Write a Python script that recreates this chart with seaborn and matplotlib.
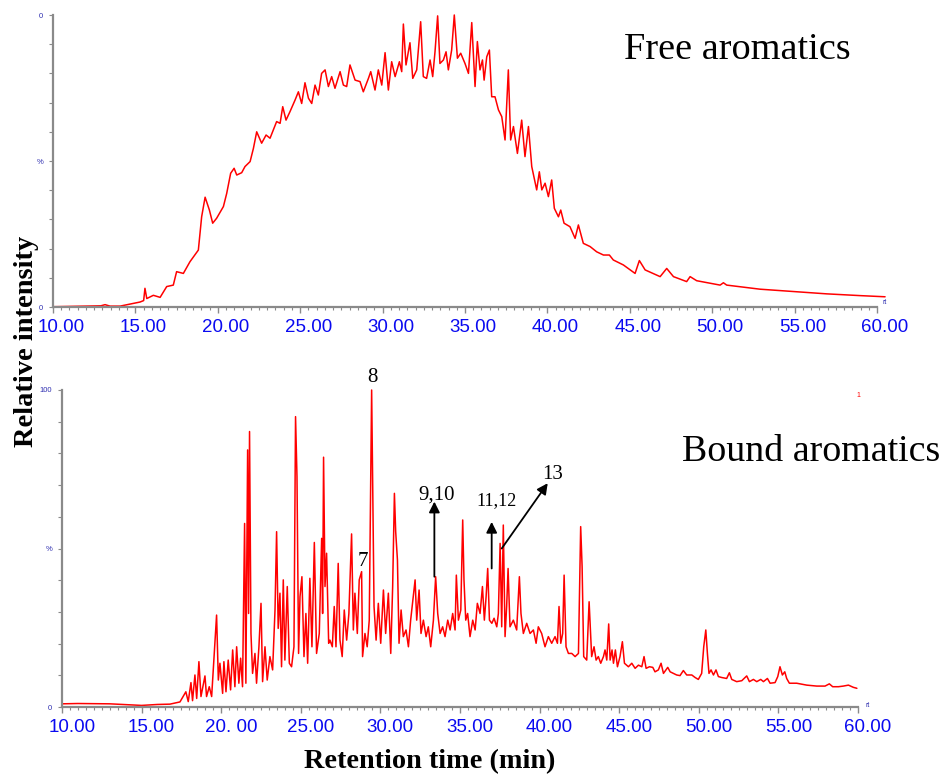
import matplotlib
matplotlib.use('Agg')
import matplotlib.pyplot as plt
import matplotlib.transforms as mtransforms
from matplotlib.ticker import MultipleLocator
import pandas as pd
import seaborn as sns

# ---------------- data ----------------
free_time = [
    10.0, 11.0, 12.25, 12.9, 13.16, 13.46, 14.07, 14.67, 15.28, 15.5,
    15.58, 15.69, 16.09, 16.5, 16.9, 17.3, 17.5, 17.91, 18.31, 18.82,
    19.02, 19.23, 19.49, 19.69, 19.93, 20.34, 20.54, 20.78, 20.99, 21.15,
    21.45, 21.65, 21.96, 22.16, 22.36, 22.66, 22.93, 23.17, 23.57, 23.78,
    23.94, 24.14, 24.38, 24.69, 24.89, 25.09, 25.29, 25.5, 25.7, 25.9,
    26.1, 26.3, 26.51, 26.71, 26.91, 27.11, 27.42, 27.62, 27.82, 28.02,
    28.33, 28.63, 28.83, 29.14, 29.28, 29.54, 29.74, 29.95, 30.15, 30.35,
    30.55, 30.76, 31.02, 31.16, 31.26, 31.42, 31.66, 31.83, 32.07, 32.31,
    32.47, 32.67, 32.88, 33.04, 33.18, 33.34, 33.48, 33.69, 33.85, 33.99,
    34.19, 34.35, 34.54, 34.74, 35.0, 35.21, 35.41, 35.61, 35.75, 35.91,
    36.06, 36.16, 36.32, 36.48, 36.62, 36.82, 37.03, 37.23, 37.43, 37.63,
    37.77, 37.94, 38.18, 38.44, 38.64, 38.85, 39.05, 39.35, 39.51, 39.66,
    39.86, 40.06, 40.26, 40.42, 40.67, 40.81, 41.01, 41.37, 41.68, 41.88,
    42.18, 42.59, 42.99, 43.4, 43.76, 44.0, 44.61, 45.32, 45.58, 45.93,
    46.84, 47.24, 47.65, 48.45, 48.66, 49.06, 50.48, 50.68, 50.88, 52.9,
    54.93, 56.95, 58.97, 60.49,
]
free_intensity = [
    0.1, 0.2, 0.3, 0.4, 0.8, 0.3, 0.3, 1.0, 1.7, 2.2,
    6.4, 2.9, 4.0, 3.3, 7.0, 7.5, 12.1, 11.5, 15.5, 19.5,
    30.9, 37.6, 33.2, 28.7, 30.4, 34.4, 38.9, 45.8, 47.5, 45.2,
    46.0, 48.1, 49.8, 54.3, 60.0, 56.1, 58.9, 57.8, 63.5, 62.9,
    68.6, 64.0, 66.9, 70.9, 73.7, 69.7, 76.8, 71.5, 69.7, 76.0,
    72.6, 80.0, 81.2, 75.5, 78.9, 74.9, 80.6, 76.0, 75.5, 82.9,
    77.7, 77.2, 73.7, 78.3, 80.6, 74.3, 81.2, 76.0, 87.1, 74.3,
    84.0, 78.9, 84.0, 80.6, 96.9, 82.9, 90.5, 78.3, 81.2, 97.7,
    78.9, 78.3, 84.6, 78.9, 87.4, 99.7, 83.4, 84.6, 87.4, 81.2,
    88.0, 100.0, 85.2, 86.9, 83.4, 80.0, 97.4, 75.5, 90.9, 81.2,
    84.6, 77.7, 85.7, 88.0, 72.0, 72.0, 67.5, 65.2, 57.2, 81.2,
    57.2, 61.8, 52.6, 64.0, 51.5, 61.8, 48.1, 40.1, 46.3, 40.1,
    42.4, 37.8, 43.5, 33.8, 30.9, 33.2, 28.7, 27.5, 23.5, 28.1,
    21.8, 20.7, 18.9, 17.8, 17.8, 16.1, 14.4, 11.5, 15.9, 12.7,
    10.4, 13.2, 10.4, 8.7, 10.4, 9.0, 7.5, 8.3, 7.5, 6.1,
    5.3, 4.5, 3.9, 3.5,
]

bound_time = [
    10.0, 11.0, 13.0, 15.0, 16.0, 16.78, 17.41, 17.78, 17.93, 18.1,
    18.2, 18.35, 18.46, 18.6, 18.73, 18.98, 19.08, 19.25, 19.4, 19.71,
    19.82, 19.92, 20.09, 20.17, 20.3, 20.44, 20.59, 20.72, 20.86, 20.97,
    21.11, 21.22, 21.34, 21.47, 21.55, 21.66, 21.72, 21.78, 21.87, 21.97,
    22.12, 22.22, 22.37, 22.5, 22.6, 22.75, 22.89, 23.06, 23.23, 23.38,
    23.48, 23.58, 23.69, 23.79, 23.9, 24.0, 24.15, 24.28, 24.42, 24.57,
    24.67, 24.76, 24.86, 24.95, 25.07, 25.2, 25.32, 25.43, 25.57, 25.7,
    25.85, 25.99, 26.16, 26.31, 26.37, 26.43, 26.52, 26.62, 26.75, 26.83,
    26.98, 27.1, 27.21, 27.35, 27.46, 27.6, 27.73, 27.88, 28.02, 28.19,
    28.3, 28.4, 28.55, 28.67, 28.82, 28.88, 29.03, 29.17, 29.3, 29.45,
    29.6, 29.73, 29.87, 30.02, 30.19, 30.33, 30.5, 30.65, 30.77, 30.88,
    30.96, 31.07, 31.17, 31.3, 31.44, 31.61, 31.76, 31.9, 32.07, 32.18,
    32.28, 32.43, 32.55, 32.7, 32.87, 33.01, 33.16, 33.33, 33.47, 33.6,
    33.75, 33.91, 34.06, 34.23, 34.38, 34.54, 34.69, 34.77, 34.9, 35.05,
    35.17, 35.25, 35.36, 35.48, 35.63, 35.8, 35.95, 36.09, 36.26, 36.41,
    36.53, 36.64, 36.74, 36.85, 37.0, 37.14, 37.31, 37.41, 37.52, 37.62,
    37.72, 37.83, 37.93, 38.02, 38.14, 38.35, 38.56, 38.73, 38.83, 38.98,
    39.19, 39.4, 39.61, 39.78, 39.92, 40.13, 40.34, 40.55, 40.76, 40.97,
    41.12, 41.22, 41.33, 41.45, 41.54, 41.66, 41.81, 42.02, 42.23, 42.44,
    42.58, 42.67, 42.77, 42.96, 43.11, 43.27, 43.42, 43.55, 43.69, 43.84,
    44.01, 44.11, 44.22, 44.34, 44.43, 44.55, 44.64, 44.76, 44.89, 45.05,
    45.2, 45.33, 45.58, 45.79, 46.0, 46.21, 46.42, 46.56, 46.69, 46.9,
    47.11, 47.25, 47.46, 47.63, 47.78, 48.05, 48.2, 48.4, 48.61, 48.82,
    49.03, 49.24, 49.56, 49.77, 49.97, 50.18, 50.31, 50.44, 50.54, 50.64,
    50.77, 50.92, 51.08, 51.23, 51.44, 51.75, 51.92, 52.07, 52.38, 52.7,
    53.01, 53.18, 53.43, 53.64, 53.89, 54.06, 54.31, 54.48, 54.79, 54.96,
    55.1, 55.25, 55.4, 55.52, 55.69, 56.15, 56.78, 57.41, 57.93, 58.2,
    58.41, 58.77, 59.08, 59.4, 59.71, 59.93,
]
bound_intensity = [
    1.0, 1.1, 1.0, 0.5, 0.8, 0.9, 1.6, 4.8, 1.7, 7.7,
    2.0, 10.1, 2.7, 14.3, 3.3, 9.8, 3.3, 6.4, 3.3, 29.0,
    8.5, 13.8, 4.3, 14.3, 4.8, 14.8, 5.4, 18.0, 6.4, 19.0,
    7.5, 15.4, 6.4, 57.9, 7.5, 81.1, 29.5, 86.9, 23.2, 10.6,
    16.9, 7.5, 19.0, 32.7, 8.0, 19.0, 8.5, 15.9, 11.7, 30.6,
    55.3, 24.8, 35.9, 12.7, 40.1, 14.8, 38.0, 13.8, 12.7, 19.0,
    91.6, 72.7, 16.9, 34.8, 41.1, 15.9, 29.5, 13.8, 40.6, 19.0,
    51.9, 16.9, 23.2, 53.2, 29.5, 78.8, 38.0, 48.5, 20.1, 21.1,
    19.0, 31.7, 19.0, 45.3, 21.1, 15.9, 30.6, 21.1, 29.5, 54.6,
    24.3, 35.9, 23.2, 40.1, 42.7, 15.9, 23.2, 19.0, 27.4, 100.0,
    31.7, 21.1, 32.7, 20.1, 36.9, 23.2, 35.9, 16.9, 38.0, 67.4,
    55.3, 46.4, 20.1, 30.6, 22.2, 24.3, 19.0, 27.4, 35.3, 40.1,
    27.4, 36.9, 23.2, 27.4, 22.2, 25.3, 19.0, 27.4, 41.1, 29.5,
    23.2, 25.3, 22.2, 27.4, 24.3, 29.5, 24.3, 41.6, 27.4, 30.6,
    59.0, 40.1, 27.4, 29.5, 22.2, 27.4, 24.3, 32.7, 29.5, 38.0,
    27.4, 34.8, 43.7, 27.4, 26.4, 28.0, 25.3, 29.5, 51.6, 25.3,
    57.4, 22.2, 31.7, 43.7, 25.3, 27.4, 24.3, 41.1, 29.5, 23.2,
    26.4, 23.2, 24.3, 20.1, 25.3, 23.2, 19.0, 22.2, 20.1, 22.2,
    20.1, 31.7, 20.1, 23.2, 41.6, 19.0, 16.9, 16.9, 15.9, 16.9,
    56.9, 44.3, 15.9, 14.8, 33.2, 15.9, 19.0, 14.8, 15.9, 13.8,
    15.9, 18.0, 14.8, 26.2, 14.8, 18.0, 13.8, 18.0, 12.7, 15.9,
    20.6, 13.8, 12.7, 13.8, 12.2, 13.2, 12.7, 15.9, 12.2, 12.7,
    12.5, 11.1, 11.7, 13.8, 10.6, 12.5, 11.1, 10.6, 10.1, 9.9,
    11.5, 10.1, 10.1, 9.3, 8.7, 10.6, 19.0, 24.3, 16.9, 10.6,
    11.7, 10.1, 11.7, 9.6, 9.3, 9.0, 10.8, 8.7, 8.0, 8.3,
    9.8, 8.0, 8.7, 8.0, 8.7, 8.0, 9.0, 7.5, 7.7, 9.6,
    12.7, 10.1, 11.1, 9.0, 7.5, 7.5, 6.9, 6.6, 6.6, 7.3,
    6.4, 6.4, 6.6, 6.9, 6.2, 5.9,
]

x_tick_values = [10, 15, 20, 25, 30, 35, 40, 45, 50, 55, 60]
top_x_labels = ['10.00', '15.00', '20.00', '25.00', '30.00', '35.00',
                '40.00', '45.00', '50.00', '55.00', '60.00']
bottom_x_labels = ['10.00', '15.00', '20. 00', '25.00', '30.00', '35.00',
                   '40.00', '45.00', '50.00', '55.00', '60.00']
y_tick_values = [0, 10, 20, 30, 40, 50, 60, 70, 80, 90, 100]
top_y_labels = ['0', '', '', '', '', '%', '', '', '', '', '0']
bottom_y_labels = ['0', '', '', '', '', '%', '', '', '', '', '100']

# peak annotations (label, text position, arrow tail, arrow tip)
peak_labels = ['8', '7', '9,10', '11,12', '13']
peak_label_pos = [(29.47, 103.8), (28.93, 45.8), (33.51, 66.9), (37.28, 65.1), (40.82, 73.5)]
peak_label_size = [15, 15, 15, 13, 15]
arrow_tails = [(33.39, 41.1), (36.99, 43.7), (37.62, 50.0)]
arrow_tips = [(33.39, 64.8), (36.99, 58.4), (40.51, 70.6)]

# ---------------- style ----------------
sns.set_style('white')
plt.rcParams['font.family'] = ['Liberation Sans', 'DejaVu Sans']
plt.rcParams['text.color'] = 'black'

W, H = 945, 775
fig = plt.figure(figsize=(W / 100, H / 100), dpi=100)
ax_top = fig.add_axes([53 / W, 1 - 307 / H, (877 - 53) / W, (307 - 15) / H])
ax_bot = fig.add_axes([62 / W, 1 - 707 / H, (858 - 62) / W, (707 - 390) / H])

spine_col = '#8a8a8a'
tick_blue = '#0a0af0'
small_blue = '#2e2eb0'

df_free = pd.DataFrame({'time': free_time, 'intensity': free_intensity})
df_bound = pd.DataFrame({'time': bound_time, 'intensity': bound_intensity})

for ax, df, xlabels, ylabels, xoff, xpad in [
        (ax_top, df_free, top_x_labels, top_y_labels, 8, 4),
        (ax_bot, df_bound, bottom_x_labels, bottom_y_labels, 10, 4.5)]:
    sns.lineplot(data=df, x='time', y='intensity', ax=ax, color='#ff0000',
                 linewidth=1.1, estimator=None, sort=False, legend=False)
    for ln in ax.lines:
        ln.set_clip_on(False)
    ax.set_xlim(10, 60)
    ax.set_ylim(0, 100)
    ax.set_xlabel('')
    ax.set_ylabel('')
    for s in ['top', 'right']:
        ax.spines[s].set_visible(False)
    for s in ['left', 'bottom']:
        ax.spines[s].set_color(spine_col)
        ax.spines[s].set_linewidth(1.6)
    ax.set_xticks(x_tick_values)
    ax.set_xticklabels(xlabels, fontsize=13.5, color=tick_blue)
    ax.xaxis.set_minor_locator(MultipleLocator(0.5))
    ax.tick_params(axis='x', which='major', length=4.5, width=1,
                   color=spine_col, pad=xpad, direction='out', bottom=True)
    ax.tick_params(axis='x', which='minor', length=2.5, width=0.8,
                   color=spine_col, direction='out', bottom=True)
    ax.set_yticks(y_tick_values)
    ax.set_yticklabels(ylabels, fontsize=5.5, color=small_blue)
    ax.tick_params(axis='y', which='major', length=3, width=0.8,
                   color=spine_col, pad=4, direction='out', left=True)
    offset = mtransforms.ScaledTranslation(xoff / 100, 0, fig.dpi_scale_trans)
    for lab in ax.get_xticklabels():
        lab.set_transform(lab.get_transform() + offset)

ax_top.text(1.007, 0.017, 'rt', transform=ax_top.transAxes, fontsize=5,
            color=small_blue, ha='left', va='center')
ax_bot.text(1.009, 0.005, 'rt', transform=ax_bot.transAxes, fontsize=5,
            color=small_blue, ha='left', va='center')
ax_bot.text(1.0, 0.984, '1', transform=ax_bot.transAxes, fontsize=5,
            color='#ff0000', ha='center', va='center')

serif = ['Liberation Serif', 'DejaVu Serif']
for lab, pos, fs in zip(peak_labels, peak_label_pos, peak_label_size):
    ax_bot.text(pos[0], pos[1], lab, fontsize=fs, family=serif, color='black',
                ha='center', va='center', clip_on=False)
for tail, tip in zip(arrow_tails, arrow_tips):
    ax_bot.annotate('', xy=tip, xytext=tail,
                    arrowprops=dict(arrowstyle='-|>', color='black', lw=1.3,
                                    mutation_scale=16, shrinkA=0, shrinkB=0))

fig.text(737 / W, 1 - 50 / H, 'Free aromatics', fontsize=27.5, family=serif,
         color='black', ha='center', va='center')
fig.text(811 / W, 1 - 452 / H, 'Bound aromatics', fontsize=27.3, family=serif,
         color='black', ha='center', va='center')
fig.text(27 / W, 1 - 341 / H, 'Relative intensity', fontsize=20.5, family=serif,
         color='black', fontweight='bold', rotation=90, ha='center', va='center')
fig.text(430 / W, 1 - 762 / H, 'Retention time (min)', fontsize=20.3, family=serif,
         color='black', fontweight='bold', ha='center', va='center')

fig.savefig('out.png', dpi=100)
